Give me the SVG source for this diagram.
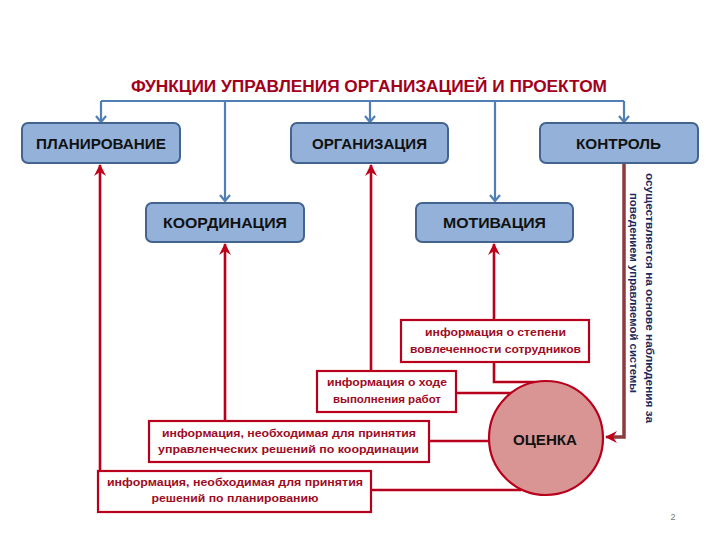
<svg xmlns="http://www.w3.org/2000/svg" width="720" height="540" viewBox="0 0 720 540">
<defs>
<style>
.box{fill:#93b1d9;stroke:#42648f;stroke-width:2}
.lbl{font-family:"Liberation Sans",Arial,sans-serif;font-weight:bold;font-size:14px;fill:#111;text-anchor:middle}
.info{fill:#fff;stroke:#b8001c;stroke-width:2.2}
.itxt{font-family:"Liberation Sans",Arial,sans-serif;font-weight:bold;font-size:11px;fill:#9e0b1f;text-anchor:middle}
.blue{fill:none;stroke:#4f7fb5;stroke-width:2.2}
.red{fill:none;stroke:#b8001c;stroke-width:2.6}
.vt{font-family:"Liberation Sans",Arial,sans-serif;font-weight:bold;font-size:11.5px;fill:#1b2a5c;text-anchor:middle}
</style>
<marker id="ab" markerUnits="userSpaceOnUse" markerWidth="14" markerHeight="14" viewBox="-7 -7 14 14" refX="0" refY="0" orient="auto">
<path d="M-6,-5 L0,0 L-6,5" fill="none" stroke="#4f7fb5" stroke-width="2.2"/>
</marker>
<marker id="ar" markerUnits="userSpaceOnUse" markerWidth="16" markerHeight="16" viewBox="-12 -8 16 16" refX="0" refY="0" orient="auto">
<path d="M1,0 L-11,-6 L-7,0 L-11,6 Z" fill="#c00018"/>
</marker>
</defs>
<rect width="720" height="540" fill="#fff"/>
<text x="369" y="92" font-family="'Liberation Sans',Arial,sans-serif" font-weight="bold" font-size="16" fill="#a3001b" text-anchor="middle" textLength="476" lengthAdjust="spacingAndGlyphs">ФУНКЦИИ УПРАВЛЕНИЯ ОРГАНИЗАЦИЕЙ И ПРОЕКТОМ</text>
<g id="connectors">
<path class="blue" d="M101,101 H624"/>
<path class="blue" d="M101,101 V122" marker-end="url(#ab)"/>
<path class="blue" d="M225,101 V201" marker-end="url(#ab)"/>
<path class="blue" d="M370,101 V122" marker-end="url(#ab)"/>
<path class="blue" d="M495,101 V201" marker-end="url(#ab)"/>
<path class="blue" d="M624,101 V122" marker-end="url(#ab)"/>
<path class="red" d="M100,471 V165" marker-end="url(#ar)"/>
<path class="red" d="M225,421 V244" marker-end="url(#ar)"/>
<path class="red" d="M371,371 V165" marker-end="url(#ar)"/>
<path class="red" d="M494,320 V244" marker-end="url(#ar)"/>
<path class="red" d="M494,362 V382 H546"/>
<path class="red" d="M456,393 H512"/>
<path class="red" d="M429,441 H490"/>
<path class="red" d="M371,490 H521"/>
<path d="M624,164 V437 H612" fill="none" stroke="#8c3c3e" stroke-width="3.5"/>
<path class="red" d="M612,437 H606" marker-end="url(#ar)"/>
</g>
<g id="planirovanie"><rect class="box" x="22" y="123" width="158" height="40" rx="6"/><text class="lbl" x="101" y="149" textLength="130" lengthAdjust="spacingAndGlyphs">ПЛАНИРОВАНИЕ</text></g>
<g id="organizatsiya"><rect class="box" x="291" y="123" width="157" height="40" rx="6"/><text class="lbl" x="369.5" y="149" textLength="115" lengthAdjust="spacingAndGlyphs">ОРГАНИЗАЦИЯ</text></g>
<g id="kontrol"><rect class="box" x="540" y="123" width="158" height="40" rx="6"/><text class="lbl" x="618.5" y="149" textLength="85" lengthAdjust="spacingAndGlyphs">КОНТРОЛЬ</text></g>
<g id="koordinatsiya"><rect class="box" x="146" y="203" width="158" height="39" rx="6"/><text class="lbl" x="225" y="228" textLength="124" lengthAdjust="spacingAndGlyphs">КООРДИНАЦИЯ</text></g>
<g id="motivatsiya"><rect class="box" x="416" y="203" width="157" height="39" rx="6"/><text class="lbl" x="494.5" y="228" textLength="103" lengthAdjust="spacingAndGlyphs">МОТИВАЦИЯ</text></g>
<g id="info-engagement"><rect class="info" x="401" y="320" width="188" height="42"/><text class="itxt" x="495.5" y="336" textLength="141" lengthAdjust="spacingAndGlyphs">информация о степени</text><text class="itxt" x="495.5" y="353" textLength="171" lengthAdjust="spacingAndGlyphs">вовлеченности сотрудников</text></g>
<g id="info-progress"><rect class="info" x="317" y="371" width="139" height="41"/><text class="itxt" x="387" y="386" textLength="120" lengthAdjust="spacingAndGlyphs">информация о ходе</text><text class="itxt" x="387" y="403" textLength="108" lengthAdjust="spacingAndGlyphs">выполнения работ</text></g>
<g id="info-coordination"><rect class="info" x="149" y="421" width="280" height="41"/><text class="itxt" x="289" y="437" textLength="254" lengthAdjust="spacingAndGlyphs">информация, необходимая для принятия</text><text class="itxt" x="288.5" y="453" textLength="261" lengthAdjust="spacingAndGlyphs">управленческих решений по координации</text></g>
<g id="info-planning"><rect class="info" x="98" y="471" width="273" height="41"/><text class="itxt" x="235" y="486" textLength="256" lengthAdjust="spacingAndGlyphs">информация, необходимая для принятия</text><text class="itxt" x="235" y="502" textLength="167" lengthAdjust="spacingAndGlyphs">решений по планированию</text></g>
<g id="otsenka"><circle cx="546" cy="438" r="57" fill="#d99594" stroke="#b8001c" stroke-width="2.2"/><text class="lbl" x="545" y="445" textLength="64" lengthAdjust="spacingAndGlyphs">ОЦЕНКА</text></g>
<g id="kontrol-note">
<text class="vt" transform="translate(646,298) rotate(90)" textLength="250" lengthAdjust="spacingAndGlyphs">осуществляется на основе наблюдения за</text>
<text class="vt" transform="translate(630,293) rotate(90)" textLength="200" lengthAdjust="spacingAndGlyphs">поведением управляемой системы</text>
</g>
<text x="673" y="520" font-family="'Liberation Sans',Arial,sans-serif" font-size="9" fill="#777" text-anchor="middle">2</text>
</svg>
